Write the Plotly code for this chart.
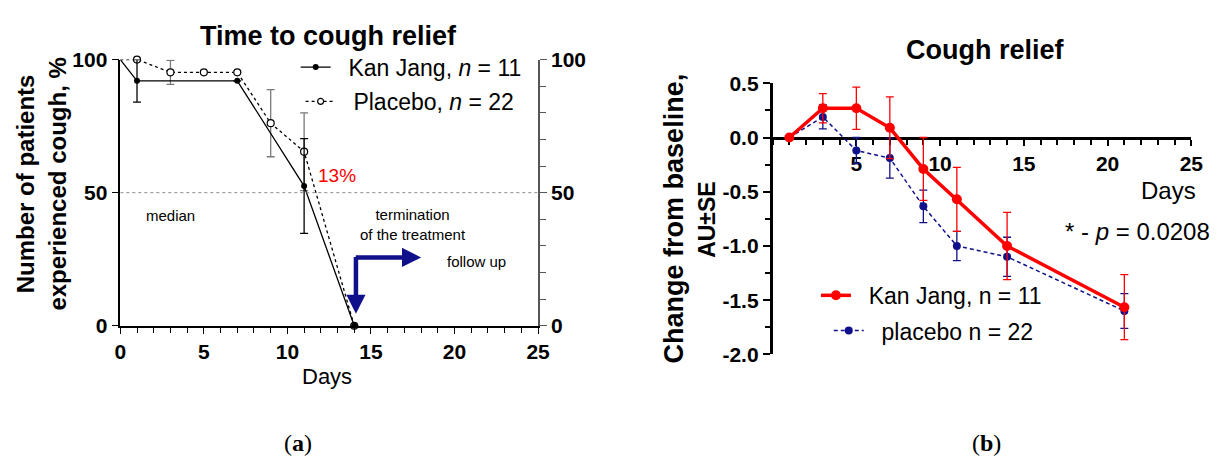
import plotly.graph_objects as go

# ---------------- Panel (a): Time to cough relief ----------------
days_kj_a = [0, 1, 7, 11, 14]
pct_kj = [100, 92, 92, 52.5, 0]
err_kj = [None, 8, None, 17.8, None]

days_pl_a = [0, 1, 3, 5, 7, 9, 11, 14]
pct_pl = [100, 100, 95.2, 95.2, 95.2, 76.1, 65.4, 0]
err_pl = [None, None, 4.5, None, None, 12.6, 14.6, None]

median_days = [0, 25]
median_level = [50, 50]

ticks_a_x = [0, 5, 10, 15, 20, 25]
ticks_a_y = [0, 50, 100]

# ---------------- Panel (b): Cough relief ----------------
days_b = [1, 3, 5, 7, 9, 11, 14, 21]
chg_kj = [0.0, 0.27, 0.27, 0.09, -0.29, -0.57, -1.0, -1.565]
se_kj = [0, 0.135, 0.195, 0.285, 0.29, 0.295, 0.31, 0.30]
chg_pl = [0.0, 0.19, -0.12, -0.19, -0.635, -1.0, -1.1, -1.6]
se_pl = [0, 0.11, 0.12, 0.185, 0.15, 0.135, 0.18, 0.16]

ticks_b_x = [5, 10, 15, 20, 25]
ticks_b_y = [-2.0, -1.5, -1.0, -0.5, 0.0, 0.5]
ticks_b_ytext = ["-2.0", "-1.5", "-1.0", "-0.5", "0.0", "0.5"]

FONT = "Liberation Sans, Arial, sans-serif"
SERIF = "Liberation Serif, Times New Roman, serif"
W, H = 1227, 469
NAVY = "#10108a"
RED = "#ff0000"
PAD = "\u00a0\u00a0"


def px(x):
    return x / W


def py(y):
    return 1 - y / H


fig = go.Figure()

# median line (on right-side axis of panel a)
fig.add_trace(go.Scatter(x=median_days, y=median_level, xaxis="x", yaxis="y2",
                         mode="lines", line=dict(color="#8a8a8a", width=1, dash="dot"),
                         showlegend=False, hoverinfo="skip"))

# Placebo (panel a)
fig.add_trace(go.Scatter(x=days_pl_a, y=pct_pl, xaxis="x", yaxis="y", mode="lines",
                         line=dict(color="black", width=1.3, dash="3px,3px"),
                         showlegend=False, cliponaxis=False))
fig.add_trace(go.Scatter(x=days_pl_a[1:], y=pct_pl[1:], xaxis="x", yaxis="y", mode="markers",
                         marker=dict(symbol="circle", size=7, color="white",
                                     line=dict(color="black", width=1.2)),
                         error_y=dict(type="data", array=err_pl[1:], color="#7a7a7a",
                                      thickness=1.3, width=4),
                         showlegend=False, cliponaxis=False))
# Kan Jang (panel a)
fig.add_trace(go.Scatter(x=days_kj_a, y=pct_kj, xaxis="x", yaxis="y", mode="lines",
                         line=dict(color="black", width=1.3),
                         showlegend=False, cliponaxis=False))
fig.add_trace(go.Scatter(x=days_kj_a[1:], y=pct_kj[1:], xaxis="x", yaxis="y", mode="markers",
                         marker=dict(symbol="circle", size=6, color="black"),
                         error_y=dict(type="data", array=err_kj[1:], color="black",
                                      thickness=1.3, width=4),
                         showlegend=False, cliponaxis=False))
# legend entries for panel a
fig.add_trace(go.Scatter(x=[None], y=[None], xaxis="x", yaxis="y", mode="lines+markers",
                         name=PAD + "Kan Jang, <i>n</i> = 11",
                         line=dict(color="black", width=1.3),
                         marker=dict(size=6, color="black"), legend="legend"))
fig.add_trace(go.Scatter(x=[None], y=[None], xaxis="x", yaxis="y", mode="lines+markers",
                         name=PAD + "Placebo, <i>n</i> = 22",
                         line=dict(color="black", width=1.3, dash="3px,3px"),
                         marker=dict(size=6, color="white", line=dict(color="black", width=1.2)),
                         legend="legend2"))

# Panel (b)
fig.add_trace(go.Scatter(x=days_b, y=chg_pl, xaxis="x3", yaxis="y3", mode="lines+markers",
                         name=PAD + "placebo n = 22",
                         line=dict(color=NAVY, width=1.5, dash="4px,3px"),
                         marker=dict(size=8, color=NAVY),
                         error_y=dict(type="data", array=se_pl, color=NAVY, thickness=1.3, width=4),
                         legend="legend4", cliponaxis=False))
fig.add_trace(go.Scatter(x=days_b, y=chg_kj, xaxis="x3", yaxis="y3", mode="lines+markers",
                         name=PAD + "Kan Jang, n = 11",
                         line=dict(color=RED, width=3.5),
                         marker=dict(size=10, color=RED),
                         error_y=dict(type="data", array=se_kj, color=RED, thickness=1.3, width=4),
                         legend="legend3", cliponaxis=False))

tickfont = dict(family=FONT, size=21, color="black", weight="bold")

fig.update_layout(
    width=W, height=H,
    margin=dict(l=0, r=0, t=0, b=0),
    paper_bgcolor="white", plot_bgcolor="white",
    font=dict(family=FONT, color="black"),
    xaxis=dict(domain=[px(116), px(540)], range=[0, 25], anchor="y",
               tickvals=ticks_a_x, ticks="outside", ticklen=6, tickwidth=1.3, tickcolor="black",
               minor=dict(dtick=1, tick0=0, ticks="outside", ticklen=5, tickwidth=1.3, tickcolor="black"),
               showline=True, linecolor="black", linewidth=1.5, showgrid=False, zeroline=False,
               tickfont=tickfont),
    yaxis=dict(domain=[py(330), py(50)], range=[0, 100], anchor="x",
               tickvals=ticks_a_y, ticks="outside", ticklen=7, tickwidth=1.3, tickcolor="black",
               showline=True, linecolor="black", linewidth=1.5, showgrid=False, zeroline=False,
               tickfont=tickfont),
    yaxis2=dict(overlaying="y", side="right", range=[0, 100], anchor="x",
                tickvals=ticks_a_y, ticks="outside", ticklen=7, tickwidth=1.3, tickcolor="#555",
                minor=dict(dtick=10, tick0=0, ticks="outside", ticklen=6, tickwidth=1.3, tickcolor="#555"),
                showline=True, linecolor="#555", linewidth=1.5, showgrid=False, zeroline=False,
                tickfont=tickfont),
    xaxis3=dict(domain=[px(778), px(1203)], range=[0, 25], anchor="free", position=py(132.5),
                tickvals=ticks_b_x, ticks="outside", ticklen=6, tickwidth=2.2, tickcolor="black",
                minor=dict(dtick=1, tick0=0, ticks="outside", ticklen=5, tickwidth=2, tickcolor="black"),
                showline=True, linecolor="black", linewidth=2.6, showgrid=False, zeroline=False,
                tickfont=tickfont, layer="below traces"),
    yaxis3=dict(domain=[py(360), py(75)], range=[-2.0, 0.5], anchor="x3",
                tickvals=ticks_b_y, ticktext=ticks_b_ytext,
                ticks="outside", ticklen=7, tickwidth=2.2, tickcolor="black",
                minor=dict(dtick=0.25, tick0=0, ticks="outside", ticklen=5, tickwidth=2, tickcolor="black"),
                showline=True, linecolor="black", linewidth=2.6, showgrid=False, zeroline=False,
                tickfont=tickfont, layer="below traces"),
    legend=dict(x=px(294), y=py(58), xanchor="left", yanchor="middle",
                bgcolor="rgba(0,0,0,0)", font=dict(family=FONT, size=23)),
    legend2=dict(x=px(299), y=py(94), xanchor="left", yanchor="middle",
                 bgcolor="rgba(0,0,0,0)", font=dict(family=FONT, size=23)),
    legend3=dict(x=px(822), y=py(298), xanchor="left", yanchor="middle",
                 bgcolor="rgba(0,0,0,0)", font=dict(family=FONT, size=23)),
    legend4=dict(x=px(835), y=py(335), xanchor="left", yanchor="middle",
                 bgcolor="rgba(0,0,0,0)", font=dict(family=FONT, size=23)),
)

ann = []
# titles
ann.append(dict(text="<b>Time to cough relief</b>", x=px(327), y=py(25), xref="paper", yref="paper",
                showarrow=False, font=dict(size=27), xanchor="center", yanchor="middle"))
ann.append(dict(text="<b>Cough relief</b>", x=px(994), y=py(40), xref="paper", yref="paper",
                showarrow=False, font=dict(size=27), xanchor="center", yanchor="middle"))
# y titles
ann.append(dict(text="<b>Number of patients<br>experienced cough, %</b>", x=px(36), y=py(181),
                xref="paper", yref="paper", textangle=-90, showarrow=False,
                font=dict(size=24), xanchor="center", yanchor="middle"))
ann.append(dict(text="<b>Change from baseline,</b>", x=px(678), y=py(217),
                xref="paper", yref="paper", textangle=-90, showarrow=False,
                font=dict(size=27), xanchor="center", yanchor="middle"))
ann.append(dict(text="<b>AU±SE</b>", x=px(712), y=py(218),
                xref="paper", yref="paper", textangle=-90, showarrow=False,
                font=dict(size=23), xanchor="center", yanchor="middle"))
# x titles
ann.append(dict(text="Days", x=px(326), y=py(383), xref="paper", yref="paper", showarrow=False,
                font=dict(size=22), xanchor="center", yanchor="middle"))
ann.append(dict(text="Days", x=px(1180), y=-0.485, xref="paper", yref="y3", showarrow=False,
                font=dict(size=24), xanchor="center", yanchor="middle"))
ann.append(dict(text="* - <i>p</i> = 0.0208", x=px(1224), y=-0.87, xref="paper", yref="y3",
                showarrow=False, font=dict(size=24), xanchor="right", yanchor="middle"))
# panel labels
ann.append(dict(text="(<b>a</b>)", x=px(296), y=py(453), xref="paper", yref="paper", showarrow=False,
                font=dict(family=SERIF, size=24), xanchor="center", yanchor="middle"))
ann.append(dict(text="(<b>b</b>)", x=px(995), y=py(453), xref="paper", yref="paper", showarrow=False,
                font=dict(family=SERIF, size=24), xanchor="center", yanchor="middle"))
# panel a notes
ann.append(dict(text="13%", x=12.95, y=56.4, xref="x", yref="y", showarrow=False,
                font=dict(size=19, color=RED), xanchor="center", yanchor="middle"))
ann.append(dict(text="median", x=3.0, y=41.5, xref="x", yref="y", showarrow=False,
                font=dict(size=15), xanchor="center", yanchor="middle"))
ann.append(dict(text="termination<br>of the treatment", x=17.5, y=38.0, xref="x", yref="y",
                showarrow=False, font=dict(size=15), xanchor="center", yanchor="middle", align="center"))
ann.append(dict(text="follow up", x=21.3, y=24.2, xref="x", yref="y", showarrow=False,
                font=dict(size=15), xanchor="center", yanchor="middle"))
# arrows
ann.append(dict(text="", x=14.1, y=4.5, ax=14.1, ay=26.4, xref="x", yref="y", axref="x", ayref="y",
                showarrow=True, arrowhead=2, arrowsize=0.85, arrowwidth=4.5, arrowcolor=NAVY))
ann.append(dict(text="", x=18.0, y=25.7, ax=14.0, ay=25.7, xref="x", yref="y", axref="x", ayref="y",
                showarrow=True, arrowhead=2, arrowsize=0.85, arrowwidth=4.5, arrowcolor=NAVY))

fig.update_layout(annotations=ann)
fig.write_html("out.html")
